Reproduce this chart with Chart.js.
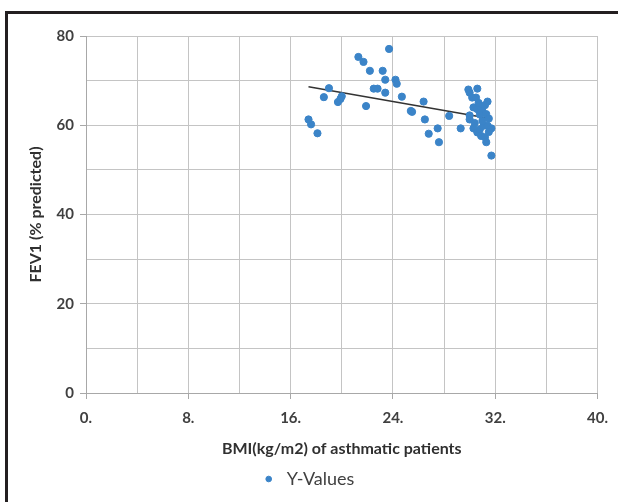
<!DOCTYPE html>
<html>
<head>
<meta charset="utf-8">
<script src="https://cdn.jsdelivr.net/npm/chart.js@4/dist/chart.umd.min.js"></script>
<style>
html,body{margin:0;padding:0;background:#fff;}
#wrap{position:relative;width:618px;height:502px;overflow:hidden;}
#frame{position:absolute;left:5px;top:11px;width:640px;height:520px;border-top:3px solid #231f20;border-left:3px solid #231f20;}
#c{position:absolute;left:0;top:0;}
</style>
</head>
<body>
<div id="wrap">
<div id="frame"></div>
<canvas id="c" width="618" height="502"></canvas>
</div>
<script>
// values
const bmi = [
17.4,17.6,18.1,18.6,19.0,19.7,19.9,20.0,21.3,21.7,
21.9,22.2,22.5,22.8,23.2,23.4,23.4,23.7,24.2,24.3,
24.7,25.4,25.5,26.4,26.5,26.8,27.5,27.6,28.4,29.3,
29.9,30.0,30.6,30.2,30.5,31.4,30.3,30.6,30.9,31.0,
30.8,30.0,30.0,30.3,30.6,30.9,30.8,31.1,31.4,31.7,
31.2,31.3,31.7,31.0,31.3,30.4,31.5,31.2,30.7,31.5
];
const fev1 = [
61.3,60.2,58.2,66.3,68.3,65.2,65.9,66.5,75.3,74.2,
64.3,72.2,68.2,68.2,72.2,70.2,67.3,77.1,70.2,69.3,
66.4,63.2,63.0,65.3,61.3,58.1,59.3,56.2,62.1,59.3,
68.0,67.3,68.2,66.2,66.2,65.3,64.0,63.6,64.0,63.2,
62.4,62.2,61.3,59.3,58.4,57.6,59.1,59.9,59.9,59.3,
57.3,56.2,53.2,61.0,62.5,60.5,58.5,64.5,65.0,61.5
];
const xTicks = ["0.","8.","16.","24.","32.","40."];
const yTicks = [0,20,40,60,80];

const pts = bmi.map((x,i)=>({x:x,y:fev1[i]}));

// least squares trend line
const n = bmi.length;
const mx = bmi.reduce((a,b)=>a+b,0)/n;
const my = fev1.reduce((a,b)=>a+b,0)/n;
let sxy = 0, sxx = 0;
bmi.forEach((x,i)=>{ sxy += (x-mx)*(fev1[i]-my); sxx += (x-mx)*(x-mx); });
const slope = sxy/sxx;
const icpt = my - slope*mx;
const x0 = Math.min(...bmi), x1 = Math.max(...bmi);
const trend = [{x:x0,y:icpt+slope*x0},{x:x1,y:icpt+slope*x1}];

const tickFont = {family:"Lato, sans-serif", size:15, weight:'bold'};
const titleFont = {family:"Lato, sans-serif", size:16, weight:'bold'};

const tickCol = major => ctx => (ctx.tick && major(ctx.tick.value)) ? "#a8a8a8" : "rgba(0,0,0,0)";

new Chart(document.getElementById("c"),{
type:"scatter",
data:{
datasets:[
{
label:"Y-Values",
data:pts,
backgroundColor:"#3b84c8",
borderColor:"#3b84c8",
pointRadius:3.6,
pointHoverRadius:3.6
},
{
label:"trend",
type:"line",
data:trend,
borderColor:"#333",
borderWidth:1.6,
pointRadius:0,
fill:false
}
]
},
options:{
responsive:false,
animation:false,
layout:{padding:{left:12,top:36,right:16,bottom:4}},
plugins:{
legend:{
position:"bottom",
labels:{
filter:item=>item.text==="Y-Values",
usePointStyle:true,
pointStyle:"circle",
boxWidth:30,
boxHeight:4,
padding:9,
color:"#404040",
font:{family:"Lato, sans-serif", size:18}
}
},
tooltip:{enabled:false}
},
scales:{
x:{
type:"linear",
min:0,max:40,
ticks:{
stepSize:4,
color:"#404040",
font:tickFont,
padding:10,
callback:v=> v%8===0 ? xTicks[v/8] : ""
},
grid:{color:"#c4c4c4",lineWidth:1,tickLength:6,drawTicks:true,tickColor:tickCol(v=>v%8===0)},
border:{color:"#a8a8a8"},
title:{display:true,text:"BMI(kg/m2) of asthmatic patients",color:"#303030",font:titleFont,padding:{top:6,bottom:3}},
afterFit:s=>{s.height=68;}
},
y:{
min:0,max:80,
ticks:{
stepSize:10,
color:"#404040",
font:tickFont,
padding:6,
callback:v=> yTicks.includes(v) ? String(v) : ""
},
grid:{color:"#c4c4c4",lineWidth:1,tickLength:6,tickColor:tickCol(v=>yTicks.includes(v))},
border:{color:"#a8a8a8"},
title:{display:true,text:"FEV1 (% predicted)",color:"#303030",font:titleFont,padding:{top:14,bottom:4}},
afterFit:s=>{s.width=74;}
}
}
}
});
</script>
</body>
</html>
